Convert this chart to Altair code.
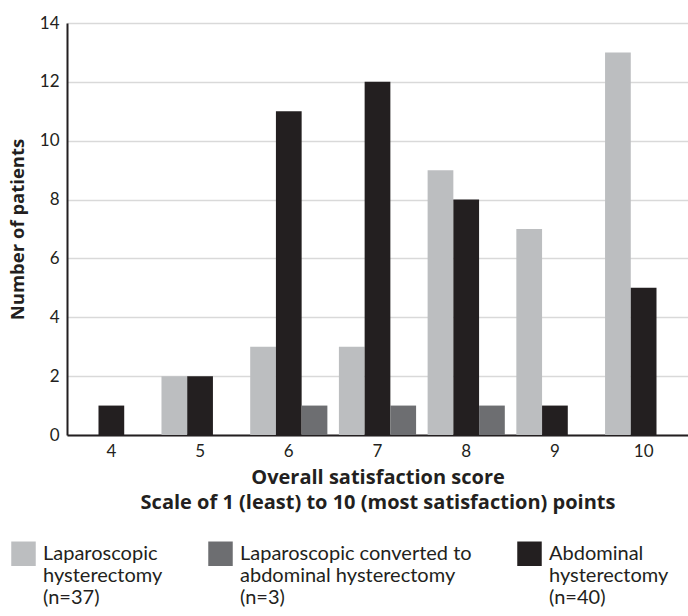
import altair as alt
import pandas as pd

scores = ["4", "5", "6", "7", "8", "9", "10"]
series = [
    "Laparoscopic|hysterectomy|(n=37)",
    "Abdominal|hysterectomy|(n=40)",
    "Laparoscopic converted to|abdominal hysterectomy|(n=3)",
]
legend_order = [series[0], series[2], series[1]]
lap = [0, 2, 3, 3, 9, 7, 13]
abd = [1, 2, 11, 12, 8, 1, 5]
conv = [0, 0, 1, 1, 1, 0, 0]
colors = ["#bcbec0", "#231f20", "#6d6e71"]

rows = []
for i, s in enumerate(scores):
    rows.append({"score": s, "series": series[0], "n": lap[i]})
    rows.append({"score": s, "series": series[1], "n": abd[i]})
    rows.append({"score": s, "series": series[2], "n": conv[i]})
df = pd.DataFrame(rows)

FONT = "Lato"
TFONT = "Open Sans"

chart = alt.Chart(df).mark_bar().encode(
    x=alt.X("score:O", sort=scores,
            scale=alt.Scale(paddingInner=0.13, paddingOuter=0.065),
            axis=alt.Axis(title=["Overall satisfaction score",
                                 "Scale of 1 (least) to 10 (most satisfaction) points"],
                          labelAngle=0, ticks=False, domainColor="#231f20",
                          domainWidth=2, labelPadding=8, titlePadding=8,
                          titleLineHeight=25, titleFontSize=20)),
    xOffset=alt.XOffset("series:N", sort=series),
    y=alt.Y("n:Q", scale=alt.Scale(domain=[0, 14]),
            axis=alt.Axis(title="Number of patients", values=list(range(0, 15, 2)),
                          ticks=False, domainColor="#231f20", domainWidth=2,
                          gridColor="#d9d9d9", gridWidth=1.5, labelPadding=8,
                          titlePadding=12, titleFontSize=18.5)),
    color=alt.Color("series:N", sort=legend_order,
                    scale=alt.Scale(domain=legend_order,
                                    range=[colors[0], colors[2], colors[1]]),
                    legend=alt.Legend(title=None, orient="none", legendX=-56, legendY=518,
                                      direction="horizontal", columns=3,
                                      symbolType="square", symbolSize=600,
                                      symbolStrokeWidth=0, symbolOpacity=1,
                                      labelFontSize=20, labelOffset=7,
                                      labelLimit=400, columnPadding=45,
                                      labelExpr="split(datum.label, '|')",
                                      labelColor="#231f20")),
).properties(
    width=621, height=412,
    autosize=alt.AutoSizeParams(type="none"),
    padding={"left": 67, "top": 23, "right": 0, "bottom": 181},
).configure_view(stroke=None).configure_axis(
    labelFont=FONT, titleFont=TFONT, labelFontSize=17,
    labelColor="#231f20", titleColor="#231f20", titleFontWeight="bold",
).configure_legend(labelFont=FONT)

chart.save("out.html", embed_options={"renderer": "svg", "actions": False})
